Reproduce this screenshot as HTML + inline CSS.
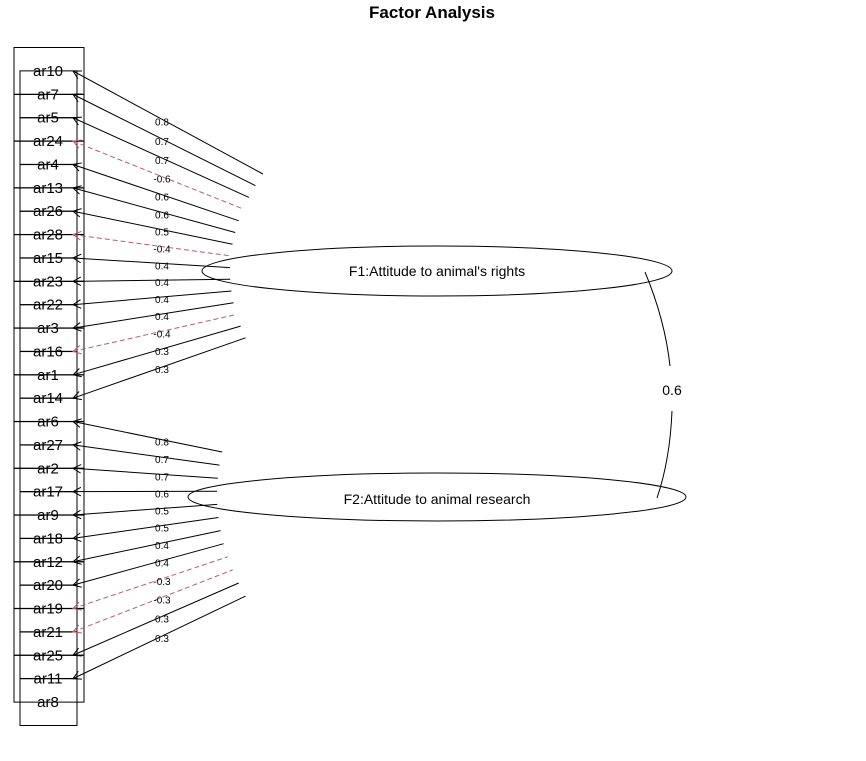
<!DOCTYPE html>
<html><head><meta charset="utf-8"><style>
body{margin:0;background:#fff;}
svg{display:block;font-family:"Liberation Sans",sans-serif;}
</style></head><body>
<svg id="chart" width="866" height="761" viewBox="0 0 866 761">
<text x="432" y="18" text-anchor="middle" font-size="17" font-weight="bold">Factor Analysis</text>
<g id="boxes"></g><g id="paths"></g><g id="labels"></g>
<ellipse cx="437" cy="271" rx="235" ry="25" fill="none" stroke="#000"/>
<text x="437" y="276" text-anchor="middle" font-size="14">F1:Attitude to animal's rights</text>
<ellipse cx="437" cy="497" rx="249" ry="24" fill="none" stroke="#000"/>
<text x="437" y="504" text-anchor="middle" font-size="14">F2:Attitude to animal research</text>
<path d="M645,272 Q665,320 670,366" fill="none" stroke="#000"/>
<path d="M672,411 Q670,460 657,498" fill="none" stroke="#000"/>
<text x="672" y="395" text-anchor="middle" font-size="14">0.6</text>
</svg>
<script>
const variables=["ar10","ar7","ar5","ar24","ar4","ar13","ar26","ar28","ar15","ar23","ar22","ar3","ar16","ar1","ar14","ar6","ar27","ar2","ar17","ar9","ar18","ar12","ar20","ar19","ar21","ar25","ar11","ar8"];
const f1Loadings=[0.8,0.7,0.7,-0.6,0.6,0.6,0.5,-0.4,0.4,0.4,0.4,0.4,-0.4,0.3,0.3];
const f2Loadings=[0.8,0.7,0.7,0.6,0.5,0.5,0.4,0.4,-0.3,-0.3,0.3,0.3];
const NS="http://www.w3.org/2000/svg";
const boxes=document.getElementById('boxes'),paths=document.getElementById('paths'),labels=document.getElementById('labels');
function yVar(i){return 71+i*23.37;}
variables.forEach((v,i)=>{
  const y=yVar(i);
  const r=document.createElementNS(NS,'rect');
  const wide=i%2===0;
  r.setAttribute('x',wide?14:20);r.setAttribute('width',wide?70:57);
  r.setAttribute('y',y-23.5);r.setAttribute('height',47);
  r.setAttribute('fill','none');r.setAttribute('stroke','#000');
  
  
  boxes.appendChild(r);
  const t=document.createElementNS(NS,'text');
  t.setAttribute('x',48);t.setAttribute('y',y+5);t.setAttribute('text-anchor','middle');t.setAttribute('font-size','15');
  t.textContent=v;
  
  
  labels.appendChild(t);
});
function drawLoads(loads,offset,cy,k,step,ystart,xbase,fname){
  loads.forEach((l,j)=>{
    const i=j+offset, v=variables[i];
    const y1=yVar(i), x1=73;
    const y2=ystart+j*step, dy=y2-cy, x2=xbase+k*dy*dy;
    const neg=l<0;
    const ln=document.createElementNS(NS,'line');
    ln.setAttribute('x1',x1);ln.setAttribute('y1',y1);ln.setAttribute('x2',x2);ln.setAttribute('y2',y2);
    ln.setAttribute('stroke',neg?'#b06070':'#000');
    if(neg)ln.setAttribute('stroke-dasharray','5,3');
    
    
    paths.appendChild(ln);
    const ang=Math.atan2(y2-y1,x2-x1);
    const ah=document.createElementNS(NS,'path');
    const a1=ang+0.5,a2=ang-0.5,L=9;
    ah.setAttribute('d',`M${x1+L*Math.cos(a1)},${y1+L*Math.sin(a1)} L${x1},${y1} L${x1+L*Math.cos(a2)},${y1+L*Math.sin(a2)}`);
    ah.setAttribute('fill','none');ah.setAttribute('stroke',neg?'#b06070':'#000');
    
    
    paths.appendChild(ah);
    const lx=162, t=(lx-x1)/(x2-x1), ly=y1+t*(y2-y1);
    const tx=document.createElementNS(NS,'text');
    tx.setAttribute('x',lx);tx.setAttribute('y',ly+6);tx.setAttribute('text-anchor','middle');tx.setAttribute('font-size','10');
    tx.textContent=String(l);
    
    
    labels.appendChild(tx);
  });
}
drawLoads(f1Loadings,0,271,0.0035,11.7,174,230,'f1');
drawLoads(f2Loadings,15,495,0.0028,13.1,452,217,'f2');
</script>
</body></html>
